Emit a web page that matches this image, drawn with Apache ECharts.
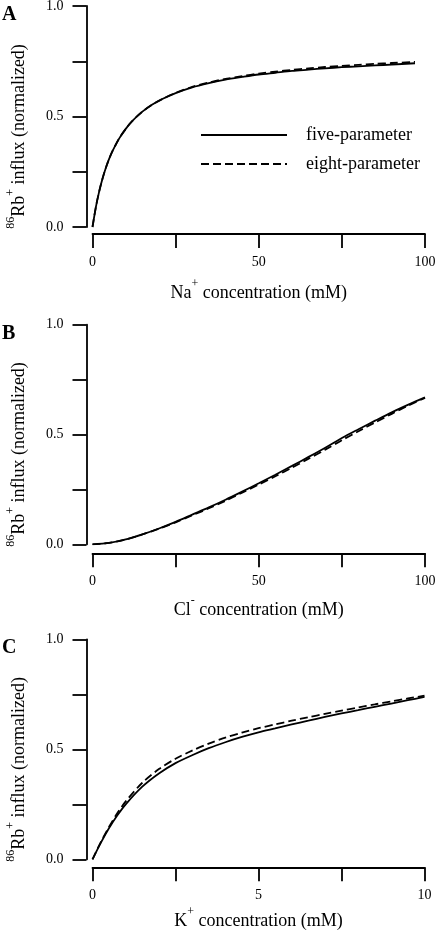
<!DOCTYPE html>
<html>
<head>
<meta charset="utf-8">
<script src="https://cdn.jsdelivr.net/npm/echarts@6/dist/echarts.min.js"></script>
<style>
html,body{margin:0;padding:0;background:#fff;}
#chart{width:438px;height:930px;}
</style>
</head>
<body>
<div id="chart"></div>
<script>
// ---- data ----
var naX = [0,1,2,3,4,5,6,8,10,12,15,18,21,25,30,35,40,45,50,55,60,65,70,75,80,85,90,97];
var naFive = [0,0.089,0.16,0.218,0.267,0.308,0.343,0.4,0.444,0.48,0.522,0.554,0.579,0.606,0.632,0.651,0.667,0.679,0.69,0.698,0.706,0.712,0.718,0.723,0.727,0.731,0.735,0.741];
var naEight = [0,0.089,0.16,0.218,0.267,0.308,0.343,0.4,0.444,0.48,0.522,0.554,0.579,0.607,0.634,0.654,0.67,0.683,0.694,0.703,0.711,0.718,0.724,0.729,0.734,0.738,0.742,0.747];

var clX = [0,5,10,15,20,25,30,35,40,45,50,55,60,65,70,75,80,85,90,95,100];
var clFive = [0,0.006,0.022,0.045,0.072,0.102,0.135,0.168,0.203,0.24,0.278,0.317,0.357,0.398,0.44,0.484,0.524,0.563,0.601,0.636,0.669];
var clEight = [0,0.006,0.022,0.045,0.071,0.1,0.132,0.164,0.198,0.235,0.272,0.31,0.349,0.39,0.431,0.474,0.515,0.555,0.594,0.632,0.667];

var kX = [0,0.25,0.5,0.75,1,1.5,2,2.5,3,3.5,4,4.5,5,5.5,6,6.5,7,7.5,8,8.5,9,9.5,10];
var kFive = [0,0.075,0.142,0.2,0.25,0.33,0.39,0.437,0.473,0.505,0.532,0.556,0.577,0.595,0.613,0.63,0.647,0.663,0.678,0.693,0.708,0.723,0.738];
var kEight = [0,0.078,0.148,0.21,0.263,0.348,0.41,0.457,0.494,0.526,0.553,0.576,0.596,0.613,0.63,0.646,0.661,0.676,0.69,0.704,0.718,0.731,0.744];

var yLabeled = [0, 0.5, 1];
var naLabeled = [0, 50, 100];
var clLabeled = [0, 50, 100];
var kLabeled = [0, 5, 10];
var panelLetters = ['A', 'B', 'C'];
var seriesNames = ['five-parameter', 'eight-parameter'];
var xTitles = [
  '{t|Na}{sup|+}{t| concentration (mM)}',
  '{t|Cl}{sup|-}{t| concentration (mM)}',
  '{t|K}{sup|+}{t| concentration (mM)}'
];
var yTitle = '{sup|86}{t|Rb}{sup|+}{t| influx (normalized)}';

// ---- layout / style ----
var FONT = "'Liberation Serif','Times New Roman',serif";
var INK = '#000';
var grids = [
  {left: 92.5, top: 6, width: 332.5, height: 221, xOff: 7, nameGap: 44},
  {left: 92.5, top: 324.7, width: 332.5, height: 219.6, xOff: 9, nameGap: 42},
  {left: 92.5, top: 639.3, width: 332, height: 220, xOff: 8, nameGap: 39}
];
var xMax = [100, 100, 10];
var xInt = [25, 25, 2.5];
var xLab = [naLabeled, clLabeled, kLabeled];
var xs = [naX, clX, kX];
var fives = [naFive, clFive, kFive];
var eights = [naEight, clEight, kEight];

function pairs(x, y) { return x.map(function (v, i) { return [v, y[i]]; }); }
function has(list, v) { return list.some(function (a) { return Math.abs(a - v) < 1e-9; }); }

var rich = {
  t: {fontFamily: FONT, fontSize: 18, color: INK, lineHeight: 24, verticalAlign: 'bottom'},
  sup: {fontFamily: FONT, fontSize: 12, color: INK, lineHeight: 14, verticalAlign: 'top'}
};

var option = {
  animation: false,
  backgroundColor: '#fff',
  title: grids.map(function (g, i) {
    return {text: panelLetters[i], left: 2, top: g.top - 1, padding: 0,
      textStyle: {fontFamily: FONT, fontWeight: 'bold', fontSize: 20, color: INK}};
  }),
  legend: {
    data: seriesNames,
    orient: 'vertical',
    left: 200, top: 126, padding: 0,
    itemWidth: 86, itemHeight: 14, itemGap: 11,
    selectedMode: false,
    itemStyle: {opacity: 0},
    textStyle: {fontFamily: FONT, fontSize: 18, color: INK, padding: [0, 0, 0, 14]}
  },
  grid: grids.map(function (g) {
    return {left: g.left, top: g.top, width: g.width, height: g.height, containLabel: false, outerBoundsMode: 'none'};
  }),
  xAxis: grids.map(function (g, i) {
    return {
      type: 'value', gridIndex: i, min: 0, max: xMax[i], interval: xInt[i],
      offset: g.xOff,
      axisLine: {onZero: false, lineStyle: {color: INK, width: 1.8}},
      axisTick: {length: 14, lineStyle: {color: INK, width: 1.8}},
      splitLine: {show: false},
      axisLabel: {
        margin: 21, fontFamily: FONT, fontSize: 14, color: INK,
        formatter: function (v) { return has(xLab[i], v) ? String(v) : ''; }
      },
      name: xTitles[i], nameLocation: 'middle', nameGap: g.nameGap,
      nameTextStyle: {rich: rich}
    };
  }),
  yAxis: grids.map(function (g, i) {
    return {
      type: 'value', gridIndex: i, min: 0, max: 1, interval: 0.25,
      offset: 6,
      axisLine: {onZero: false, lineStyle: {color: INK, width: 1.8}},
      axisTick: {length: 14, lineStyle: {color: INK, width: 1.8}},
      splitLine: {show: false},
      axisLabel: {
        margin: 23, fontFamily: FONT, fontSize: 14, color: INK,
        formatter: function (v) { return has(yLabeled, v) ? v.toFixed(1) : ''; }
      },
      name: yTitle, nameLocation: 'middle', nameRotate: 90, nameGap: 58,
      nameTextStyle: {rich: rich, padding: [0, 40, 0, 0]}
    };
  }),
  series: []
};

for (var i = 0; i < 3; i++) {
  option.series.push({
    name: seriesNames[0], type: 'line', xAxisIndex: i, yAxisIndex: i,
    data: pairs(xs[i], fives[i]), smooth: 0.3, symbol: 'none', showSymbol: false,
    lineStyle: {color: INK, width: 1.8, type: 'solid'}, itemStyle: {color: INK}, z: 3
  });
  option.series.push({
    name: seriesNames[1], type: 'line', xAxisIndex: i, yAxisIndex: i,
    data: pairs(xs[i], eights[i]), smooth: 0.3, symbol: 'none', showSymbol: false,
    lineStyle: {color: INK, width: 1.8, type: [8, 4]}, itemStyle: {color: INK}, z: 2
  });
}

var chart = echarts.init(document.getElementById('chart'), null, {renderer: 'canvas'});
chart.setOption(option);
</script>
</body>
</html>
